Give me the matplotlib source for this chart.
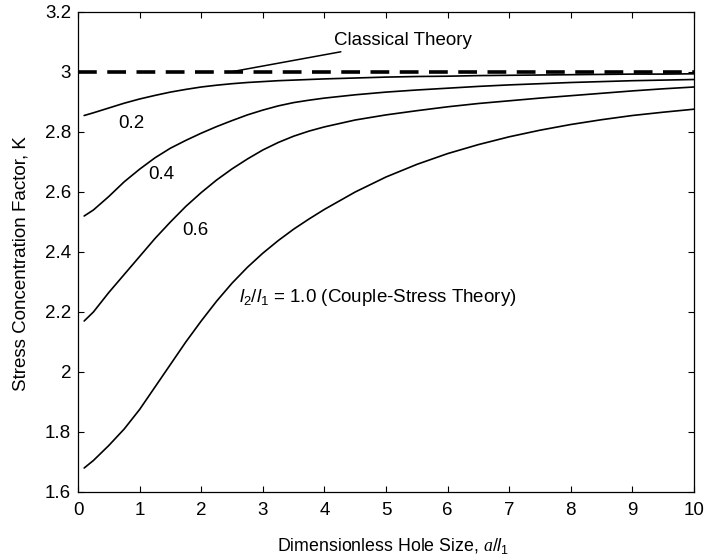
import matplotlib
matplotlib.use("Agg")
import matplotlib.pyplot as plt

plt.rcParams["font.family"] = ["Liberation Sans", "DejaVu Sans"]
plt.rcParams["mathtext.fontset"] = "custom"
plt.rcParams["mathtext.rm"] = "Liberation Sans"
plt.rcParams["mathtext.it"] = "Liberation Sans:italic"
plt.rcParams["mathtext.cal"] = "Liberation Serif:italic"

# Dimensionless hole size a/l1
hole_size = [0.1, 0.25, 0.5, 0.75, 1.0, 1.25, 1.5, 1.75, 2.0, 2.25, 2.5, 2.75,
             3.0, 3.25, 3.5, 3.75, 4.0, 4.5, 5.0, 5.5, 6.0, 6.5, 7.0, 7.5,
             8.0, 8.5, 9.0, 9.5, 10.0]

# Stress concentration factor K for each ratio l2/l1
k_ratio_02 = [2.855, 2.864, 2.880, 2.896, 2.910, 2.922, 2.933, 2.942, 2.950, 2.956,
              2.961, 2.965, 2.968, 2.971, 2.973, 2.975, 2.977, 2.980, 2.983, 2.985,
              2.986, 2.988, 2.989, 2.990, 2.991, 2.992, 2.993, 2.993, 2.994]
k_ratio_04 = [2.520, 2.540, 2.585, 2.634, 2.676, 2.714, 2.746, 2.772, 2.796, 2.818,
              2.838, 2.857, 2.873, 2.887, 2.898, 2.906, 2.913, 2.924, 2.933, 2.940,
              2.946, 2.952, 2.957, 2.961, 2.965, 2.968, 2.971, 2.973, 2.975]
k_ratio_06 = [2.170, 2.200, 2.265, 2.325, 2.385, 2.445, 2.500, 2.552, 2.598, 2.640,
              2.677, 2.710, 2.740, 2.765, 2.786, 2.803, 2.817, 2.840, 2.857, 2.871,
              2.884, 2.895, 2.904, 2.913, 2.921, 2.929, 2.937, 2.944, 2.950]
k_ratio_10 = [1.680, 1.705, 1.755, 1.810, 1.875, 1.950, 2.025, 2.100, 2.170, 2.236,
              2.296, 2.349, 2.396, 2.438, 2.476, 2.510, 2.542, 2.600, 2.650, 2.692,
              2.728, 2.758, 2.784, 2.806, 2.825, 2.841, 2.855, 2.866, 2.876]

k_classical = 3.0
x_limits = [0, 10]

x_ticks = list(range(0, 11))
y_ticks = [1.6, 1.8, 2.0, 2.2, 2.4, 2.6, 2.8, 3.0, 3.2]
y_tick_labels = ["1.6", "1.8", "2", "2.2", "2.4", "2.6", "2.8", "3", "3.2"]

fs = 13.5

fig = plt.figure(figsize=(7.04, 5.57), dpi=100)
ax = fig.add_axes([78 / 704, 1 - 492 / 557, 616 / 704, 480 / 557])

for k in (k_ratio_02, k_ratio_04, k_ratio_06, k_ratio_10):
    ax.plot(hole_size, k, color="black", lw=1.2, solid_capstyle="round",
            solid_joinstyle="round")

ax.plot(x_limits, [k_classical, k_classical], color="black", lw=2.6,
        dashes=(5.2, 2.9))

ax.set_xlim(0, 10)
ax.set_ylim(1.6, 3.2)
ax.set_xticks(x_ticks)
ax.set_yticks(y_ticks)
ax.set_yticklabels(y_tick_labels)
ax.tick_params(direction="in", length=4, width=0.8, top=True, right=True,
               labelsize=fs)
ax.tick_params(axis="x", pad=7)
ax.tick_params(axis="y", pad=5)
for s in ax.spines.values():
    s.set_linewidth(0.9)

# Curve labels
ax.text(0.87, 2.83, "0.2", fontsize=fs, ha="center", va="center")
ax.text(1.355, 2.657, "0.4", fontsize=fs, ha="center", va="center")
ax.text(1.91, 2.473, "0.6", fontsize=fs, ha="center", va="center")
ax.text(2.62, 2.25, r"$\mathit{l}_2/\mathit{l}_1$ = 1.0 (Couple-Stress Theory)",
        fontsize=fs, ha="left", va="center")

ax.annotate("Classical Theory", xy=(2.47, k_classical), xytext=(4.15, 3.105),
            fontsize=fs, ha="left", va="center",
            arrowprops=dict(arrowstyle="-", color="black", lw=1.1,
                            shrinkA=0, shrinkB=0))

ax.set_xlabel(r"Dimensionless Hole Size, $\mathcal{a}/\mathit{l}_1$", fontsize=12.8)
ax.xaxis.set_label_coords(0.511, -0.092)
ax.set_ylabel("Stress Concentration Factor, K", fontsize=fs)
ax.yaxis.set_label_coords(-0.078, 0.476)

fig.savefig("out.png", dpi=100)
